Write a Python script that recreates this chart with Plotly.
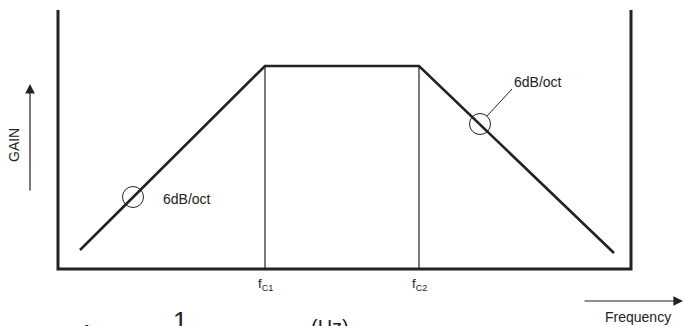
import plotly.graph_objects as go

# ---- data (in the diagram's own coordinate units) ----
curve_freq = [80, 265, 419, 614]        # break points of the gain curve
curve_gain = [76, 260, 260, 73]
corner_freq = [265, 419]                 # fc1, fc2
corner_labels = ["f<sub>C1</sub>", "f<sub>C2</sub>"]
box_x = [58, 58, 631, 631]               # frame: left wall, floor, right wall
box_y = [316, 57, 57, 316]
slope_marks_x = [133, 480]               # circled points on the slopes
slope_marks_y = [129, 202]
slope_label = "6dB/oct"

INK = "#222222"
FONT = "Liberation Sans, Arial, Helvetica, sans-serif"

fig = go.Figure()

# frame
fig.add_trace(go.Scatter(x=box_x, y=box_y, mode="lines",
                         line=dict(color=INK, width=3), hoverinfo="skip"))
# corner frequency verticals
for f in corner_freq:
    fig.add_trace(go.Scatter(x=[f, f], y=[box_y[1], curve_gain[1]], mode="lines",
                             line=dict(color=INK, width=1.2), hoverinfo="skip"))
# gain curve
fig.add_trace(go.Scatter(x=curve_freq, y=curve_gain, mode="lines",
                         line=dict(color=INK, width=2.6), hoverinfo="skip"))

shapes = []
r = 10.5
for cx, cy in zip(slope_marks_x, slope_marks_y):
    shapes.append(dict(type="circle", xref="x", yref="y",
                       x0=cx - r, x1=cx + r, y0=cy - r, y1=cy + r,
                       line=dict(color=INK, width=1)))
# leader line for right label
shapes.append(dict(type="line", xref="x", yref="y",
                   x0=slope_marks_x[1] + 7, y0=slope_marks_y[1] + 8,
                   x1=512, y1=237, line=dict(color=INK, width=1)))

annotations = []
# slope labels
annotations.append(dict(x=161, y=127, xref="x", yref="y", text=slope_label,
                        showarrow=False, xanchor="left", yanchor="middle",
                        font=dict(family=FONT, size=14, color=INK)))
annotations.append(dict(x=512, y=244, xref="x", yref="y", text=slope_label,
                        showarrow=False, xanchor="left", yanchor="middle",
                        font=dict(family=FONT, size=14, color=INK)))
# corner labels
for f, lab in zip(corner_freq, corner_labels):
    annotations.append(dict(x=f, y=42, xref="x", yref="y", text=lab,
                            showarrow=False, xanchor="center", yanchor="middle",
                            font=dict(family=FONT, size=13, color=INK)))
# GAIN axis arrow + label
annotations.append(dict(x=30, y=242, ax=30, ay=134, xref="x", yref="y",
                        axref="x", ayref="y", text="", showarrow=True,
                        arrowhead=2, arrowsize=1.6, arrowwidth=1.2, arrowcolor=INK))
annotations.append(dict(x=14, y=181, xref="x", yref="y", text="GAIN",
                        showarrow=False, textangle=-90,
                        font=dict(family=FONT, size=14, color=INK)))
# Frequency arrow + label
annotations.append(dict(x=683, y=25, ax=583, ay=25, xref="x", yref="y",
                        axref="x", ayref="y", text="", showarrow=True,
                        arrowhead=2, arrowsize=1.6, arrowwidth=1.2, arrowcolor=INK))
annotations.append(dict(x=638, y=9, xref="x", yref="y", text="Frequency",
                        showarrow=False, xanchor="center", yanchor="middle",
                        font=dict(family=FONT, size=14, color=INK)))
# cut-off formula at bottom edge
annotations.append(dict(x=80, y=7, xref="x", yref="y", text="f",
                        showarrow=False, xanchor="left", yanchor="top",
                        font=dict(family=FONT, size=22, color=INK)))
annotations.append(dict(x=180, y=22, xref="x", yref="y", text="1",
                        showarrow=False, xanchor="center", yanchor="top",
                        font=dict(family=FONT, size=26, color=INK)))
annotations.append(dict(x=330, y=12, xref="x", yref="y", text="(Hz)",
                        showarrow=False, xanchor="center", yanchor="top",
                        font=dict(family=FONT, size=20, color=INK)))

fig.update_layout(
    width=684, height=326,
    margin=dict(l=0, r=0, t=0, b=0),
    paper_bgcolor="white", plot_bgcolor="white",
    showlegend=False,
    xaxis=dict(range=[0, 684], visible=False, fixedrange=True),
    yaxis=dict(range=[0, 326], visible=False, fixedrange=True),
    shapes=shapes, annotations=annotations,
)

fig.write_html("out.html", config={"displayModeBar": False},
               post_script="document.body.style.margin='0';document.body.style.overflow='hidden';")
